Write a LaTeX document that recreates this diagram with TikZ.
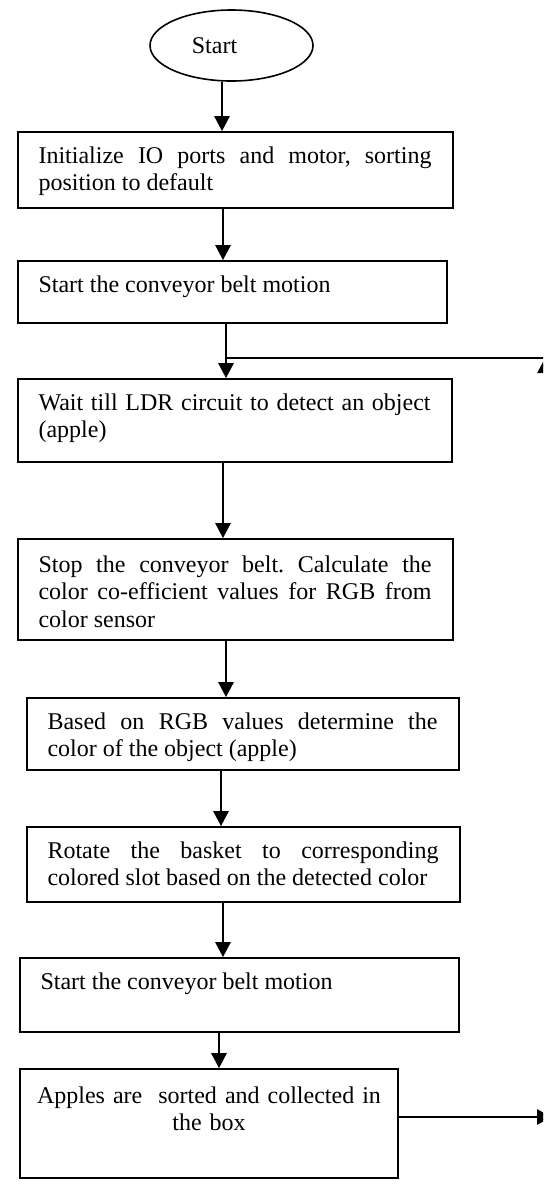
\documentclass[tikz,border=0pt]{standalone}
\usepackage{fontspec}
\setmainfont{Liberation Serif}
\usetikzlibrary{arrows.meta,shapes.geometric,fit}
\hyphenpenalty=10000
\exhyphenpenalty=10000
\tolerance=10000
\frenchspacing

\tikzset{
    stepbox/.style={draw,line width=0.85pt,inner sep=0pt},
    steptext/.style={anchor=base west,inner sep=0pt,align=justify,font=\fontsize{12pt}{13.8pt}\selectfont},
    flow/.style={-{Triangle[width=7.5pt,length=7.5pt]},line width=1.3pt}
}

\begin{document}
\begin{tikzpicture}[x=0.5pt,y=-0.5pt]
        \useasboundingbox (0,0) rectangle (543,1185);
        \fill[white] (0,0) rectangle (543,1185);
        \clip (0,0) rectangle (543,1185);
        % terminal
        \node[ellipse,draw,line width=0.8pt,minimum width=81.5pt,minimum height=35.5pt,inner sep=0pt,
              font=\fontsize{12pt}{13.8pt}\selectfont] (start) at (231.5,45.5) {Start\kern17pt};
        % process boxes
        \node[stepbox,fit={(18,132) (453,208)}] (init) {};
        \node[steptext,text width=196.5pt] (initT) at ([shift={(21,32)}]init.north west)
            {Initialize IO ports and motor, sorting position to default};
        \node[stepbox,fit={(18,261) (447,323)}] (belt1) {};
        \node[steptext,text width=195pt] (belt1T) at ([shift={(21,32)}]belt1.north west)
            {Start the conveyor belt motion};
        \node[stepbox,fit={(18,379) (452,462)}] (wait) {};
        \node[steptext,text width=196pt] (waitT) at ([shift={(21,32)}]wait.north west)
            {Wait till LDR circuit to detect an object (apple)};
        \node[stepbox,fit={(18,539) (453,640)}] (stop) {};
        \node[steptext,text width=196.5pt] (stopT) at ([shift={(21,34)}]stop.north west)
            {Stop the conveyor belt. Calculate the color co-efficient values for RGB from color sensor};
        \node[stepbox,fit={(27,698) (459,770)}] (decide) {};
        \node[steptext,text width=195pt] (decideT) at ([shift={(21,32)}]decide.north west)
            {Based on RGB values determine the color of the object (apple)};
        \node[stepbox,fit={(27,827) (460,902)}] (rotate) {};
        \node[steptext,text width=195.5pt] (rotateT) at ([shift={(21,32)}]rotate.north west)
            {Rotate the basket to corresponding colored slot based on the detected color};
        \node[stepbox,fit={(20,958) (459,1032)}] (belt2) {};
        \node[steptext,text width=195pt] (belt2T) at ([shift={(21,32)}]belt2.north west)
            {Start the conveyor belt motion};
        \node[stepbox,fit={(20,1069) (398,1178)}] (sorted) {};
        \node[steptext,anchor=base,align=center,text width=180pt] (sortedT) at (209,1103)
            {Apples are~ sorted and collected in\\the box};
        % main flow
        \foreach \a/\b/\x in {start/init/222,init/belt1/223,belt1/wait/226,wait/stop/223,
                              stop/decide/226,decide/rotate/221,rotate/belt2/223,belt2/sorted/219}
            \draw[flow] (\a.south -| \x,0) -- (\b.north -| \x,0);
        % return path
        \coordinate (join) at (226,358);
        \coordinate (ret) at (545,358);
        \coordinate (retlow) at (545,1117);
        \coordinate (out) at (552,1117);
        \draw[line width=0.8pt] (join) -- (ret);
        \draw[flow] (sorted.east |- out) -- (out);
        \draw[flow] (retlow) -- (ret);
\end{tikzpicture}
\end{document}
